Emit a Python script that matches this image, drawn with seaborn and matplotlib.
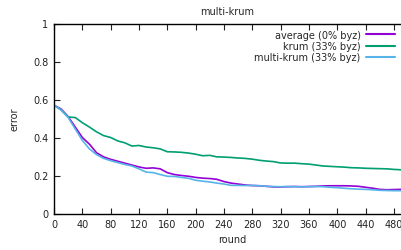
import numpy as np
import pandas as pd
import matplotlib
matplotlib.use("Agg")
import matplotlib.pyplot as plt
import seaborn as sns

rounds = list(range(0, 500, 10))

average = [0.570, 0.550, 0.510, 0.455, 0.400, 0.365, 0.320, 0.298, 0.285, 0.275,
           0.265, 0.255, 0.245, 0.238, 0.240, 0.235, 0.215, 0.205, 0.200, 0.196,
           0.190, 0.186, 0.184, 0.180, 0.168, 0.160, 0.155, 0.150, 0.147, 0.146,
           0.143, 0.140, 0.140, 0.141, 0.142, 0.141, 0.142, 0.143, 0.145, 0.146,
           0.146, 0.146, 0.145, 0.143, 0.138, 0.133, 0.127, 0.125, 0.126, 0.127]

krum = [0.570, 0.545, 0.508, 0.505, 0.478, 0.455, 0.430, 0.410, 0.400, 0.382,
        0.372, 0.355, 0.358, 0.350, 0.346, 0.340, 0.325, 0.324, 0.322, 0.318,
        0.312, 0.304, 0.306, 0.298, 0.297, 0.295, 0.292, 0.290, 0.286, 0.280,
        0.276, 0.273, 0.266, 0.265, 0.265, 0.262, 0.260, 0.255, 0.250, 0.248,
        0.246, 0.244, 0.241, 0.240, 0.238, 0.237, 0.236, 0.235, 0.232, 0.230]

multi_krum = [0.570, 0.545, 0.505, 0.445, 0.385, 0.340, 0.310, 0.290, 0.278, 0.268,
              0.258, 0.250, 0.235, 0.218, 0.215, 0.205, 0.196, 0.195, 0.190, 0.185,
              0.175, 0.170, 0.166, 0.160, 0.155, 0.148, 0.148, 0.147, 0.148, 0.146,
              0.143, 0.142, 0.141, 0.142, 0.141, 0.140, 0.141, 0.142, 0.141, 0.138,
              0.136, 0.133, 0.130, 0.128, 0.127, 0.125, 0.122, 0.121, 0.120, 0.120]

labels = ["average (0% byz)", "krum (33% byz)", "multi-krum (33% byz)"]
colors = ["#9400d3", "#009e73", "#56b4e9"]
xticks = list(range(0, 481, 40))
yticks = [0, 0.2, 0.4, 0.6, 0.8, 1]
yticklabels = ["0", "0.2", "0.4", "0.6", "0.8", "1"]

df = pd.concat([
    pd.DataFrame({"round": rounds, "error": average, "series": labels[0]}),
    pd.DataFrame({"round": rounds, "error": krum, "series": labels[1]}),
    pd.DataFrame({"round": rounds, "error": multi_krum, "series": labels[2]}),
])

sns.set_style("white")
plt.rcParams["font.family"] = ["DejaVu Sans"]
plt.rcParams["font.size"] = 7

fig = plt.figure(figsize=(4.01, 2.51), dpi=100)
ax = fig.add_axes([54 / 401, 1 - 214.5 / 251, (401 - 54) / 401, 190 / 251])

sns.lineplot(data=df, x="round", y="error", hue="series", palette=colors,
             hue_order=labels, linewidth=1.2, ax=ax, legend=False)

ax.set_xlim(0, 490)
ax.set_ylim(0, 1)
ax.set_xticks(xticks)
ax.set_xticklabels([str(t) for t in xticks], fontsize=7, color="#222222")
ax.set_yticks(yticks)
ax.set_yticklabels(yticklabels, fontsize=7, color="#222222")
ax.tick_params(direction="in", length=4, width=0.8, top=True, bottom=True,
               left=True, right=False, pad=4, colors="#222222")
for s in ["left", "bottom", "top"]:
    ax.spines[s].set_visible(True)
    ax.spines[s].set_color("black")
    ax.spines[s].set_linewidth(1.0)
ax.spines["right"].set_visible(False)

ax.set_xlabel("round", fontsize=7)
ax.xaxis.set_label_coords((232 - 54) / 347, (214.5 - 240) / 190)
ax.xaxis.label.set_va("center")
ax.set_ylabel("error", fontsize=7)
ax.yaxis.set_label_coords((14 - 54) / 347, 0.5)
ax.yaxis.label.set_va("center")
ax.set_title("multi-krum", fontsize=7, pad=7)

handles = [plt.Line2D([], [], color=c, lw=1.5) for c in colors]
leg = ax.legend(handles, labels, loc="upper right", bbox_to_anchor=(1.0, 1.0),
                frameon=False, markerfirst=False, fontsize=7, handlelength=2.9,
                handletextpad=0.6, labelspacing=0.12, borderpad=0.15)

fig.savefig("out.png", dpi=100)
